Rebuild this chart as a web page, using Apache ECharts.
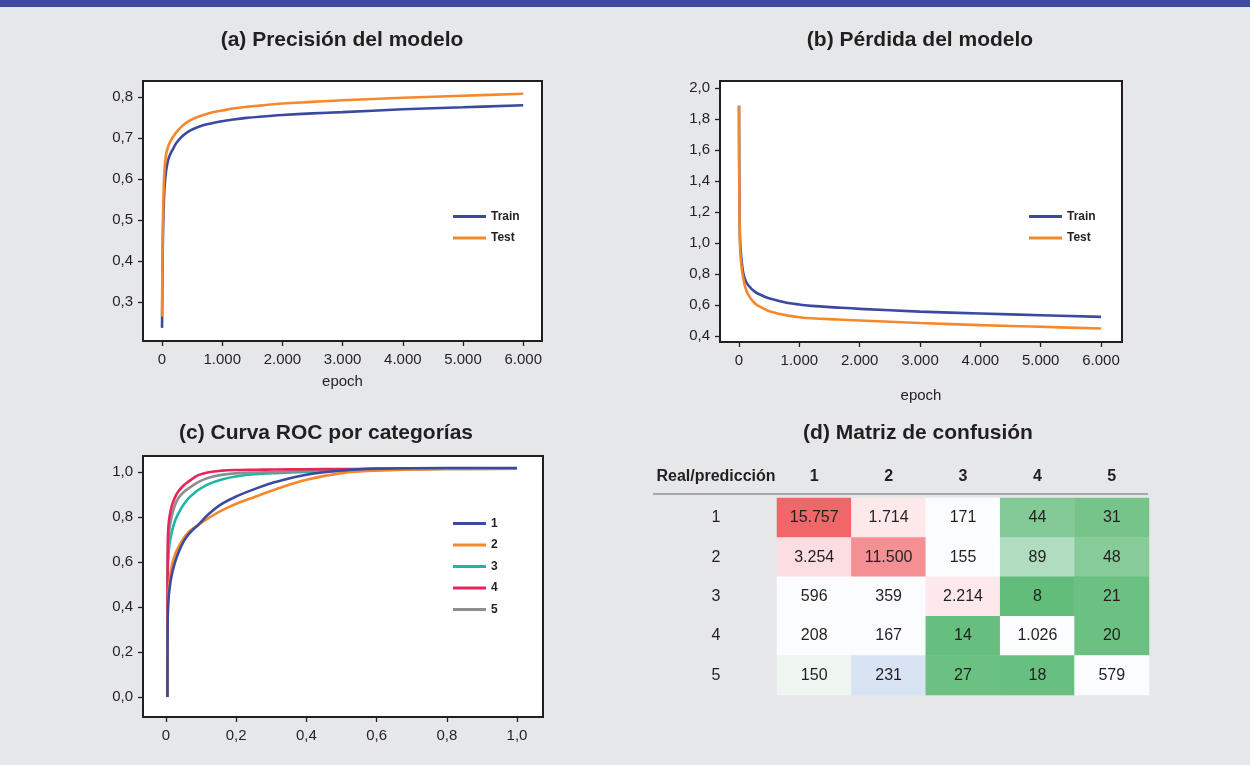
<!DOCTYPE html>
<html>
<head>
<meta charset="utf-8">
<script src="https://cdn.jsdelivr.net/npm/echarts@6/dist/echarts.min.js"></script>
<style>
  html, body { margin: 0; padding: 0; background: #e6e7e9; }
  #chart { width: 1250px; height: 765px; }
</style>
</head>
<body>
<div id="chart"></div>
<script>
// (a) precision per epoch
const epochsA = [0, 10, 22, 40, 66, 100, 132, 200, 243, 350, 464, 600, 795, 1000, 1182, 1400, 1624, 2000, 2500, 3000, 4000, 5000, 6000];
const trainAcc = [0.237, 0.40, 0.504, 0.575, 0.618, 0.645, 0.659, 0.678, 0.689, 0.706, 0.718, 0.727, 0.735, 0.741, 0.745, 0.749, 0.752, 0.756, 0.760, 0.763, 0.770, 0.775, 0.780];
const testAcc = [0.265, 0.45, 0.545, 0.620, 0.659, 0.678, 0.690, 0.706, 0.715, 0.731, 0.743, 0.752, 0.761, 0.767, 0.772, 0.776, 0.779, 0.784, 0.788, 0.792, 0.798, 0.803, 0.808];

// (b) loss per epoch
const epochsB = [0, 5, 15, 28, 50, 66, 100, 150, 260, 400, 480, 680, 810, 1000, 1200, 1640, 2000, 3000, 4000, 5000, 6000];
const trainLoss = [1.886, 1.40, 1.05, 0.95, 0.86, 0.815, 0.765, 0.729, 0.686, 0.658, 0.645, 0.624, 0.613, 0.603, 0.594, 0.583, 0.575, 0.557, 0.545, 0.534, 0.523];
const testLoss = [1.886, 1.35, 1.00, 0.90, 0.82, 0.783, 0.720, 0.668, 0.611, 0.578, 0.563, 0.541, 0.531, 0.521, 0.514, 0.506, 0.500, 0.484, 0.470, 0.459, 0.448];

// (c) ROC curves
const fpr = [0.004, 0.005, 0.007, 0.01, 0.016, 0.025, 0.035, 0.05, 0.064, 0.08, 0.092, 0.121, 0.159, 0.207, 0.254, 0.311, 0.4, 0.5, 0.6, 0.8, 1.0];
const tpr1 = [0, 0.36, 0.43, 0.48, 0.54, 0.595, 0.64, 0.69, 0.722, 0.748, 0.765, 0.812, 0.858, 0.896, 0.925, 0.955, 0.988, 1.007, 1.015, 1.018, 1.018];
const tpr2 = [0, 0.36, 0.46, 0.51, 0.58, 0.63, 0.665, 0.705, 0.733, 0.752, 0.765, 0.795, 0.829, 0.863, 0.89, 0.922, 0.965, 0.995, 1.006, 1.013, 1.015];
const tpr3 = [0, 0.55, 0.63, 0.68, 0.73, 0.78, 0.815, 0.855, 0.883, 0.905, 0.92, 0.946, 0.967, 0.982, 0.99, 0.995, 1.0, 1.005, 1.01, 1.013, 1.015];
const tpr4 = [0, 0.68, 0.76, 0.80, 0.846, 0.885, 0.913, 0.94, 0.957, 0.975, 0.986, 0.999, 1.006, 1.009, 1.01, 1.011, 1.012, 1.013, 1.014, 1.015, 1.015];
const tpr5 = [0, 0.60, 0.69, 0.75, 0.80, 0.85, 0.883, 0.91, 0.927, 0.944, 0.955, 0.974, 0.987, 0.995, 0.998, 1.0, 1.005, 1.01, 1.013, 1.015, 1.015];
const rocNames = ['1', '2', '3', '4', '5'];

// (d) confusion matrix, rows = real, columns = predicted
const classes = ['1', '2', '3', '4', '5'];
const confusion = [
  [15757, 1714, 171, 44, 31],
  [3254, 11500, 155, 89, 48],
  [596, 359, 2214, 8, 21],
  [208, 167, 14, 1026, 20],
  [150, 231, 27, 18, 579]
];

// tick values
const epochTicks = [0, 1000, 2000, 3000, 4000, 5000, 6000];
const accTicks = [0.3, 0.4, 0.5, 0.6, 0.7, 0.8];
const lossTicks = [0.4, 0.6, 0.8, 1.0, 1.2, 1.4, 1.6, 1.8, 2.0];
const rocTicks = [0, 0.2, 0.4, 0.6, 0.8, 1.0];

// styles
const BLUE = '#3b4a9e', ORANGE = '#f6882c', TEAL = '#1cb6a6', RED = '#e8245a', GRAY = '#8e8e90';
const INK = '#231f20';
const cellFill = [
  ['#f0676a', '#fde8ea', '#fbfcfe', '#84ca97', '#77c48b'],
  ['#fcdde1', '#f39093', '#fbfcfe', '#b0dcc0', '#86cb98'],
  ['#fbfcfe', '#fbfcfe', '#fde8eb', '#62bd7b', '#6bc182'],
  ['#fbfcfe', '#fbfcfe', '#66bf7e', '#fbfcfe', '#6ac181'],
  ['#eff6f2', '#d8e4f3', '#6ac181', '#68c080', '#fbfcfe']
];

const comma = (v, d) => v.toFixed(d).replace('.', ',');
const thousands = v => String(v).replace(/\B(?=(\d{3})+(?!\d))/g, '.');
const pairs = (xs, ys) => xs.map((x, i) => [x, ys[i]]);

const chart = echarts.init(document.getElementById('chart'));

const titleStyle = { fontSize: 21, fontWeight: 'bold', color: INK };
const labelStyle = { fontSize: 15, color: INK };

function valueAxis(gridIndex, min, max, ticks, fmt, margin, extra) {
  return Object.assign({
    type: 'value', gridIndex, min, max,
    axisLine: { show: false, onZero: false },
    splitLine: { show: false },
    axisTick: { show: true, length: 5, lineStyle: { color: INK, width: 1.3 }, customValues: ticks },
    axisLabel: Object.assign({ customValues: ticks, formatter: fmt, margin }, labelStyle)
  }, extra || {});
}

function curve(name, data, color, xi, z) {
  return {
    name, type: 'line', xAxisIndex: xi, yAxisIndex: xi, data,
    showSymbol: false, smooth: 0.4, z: z || 2,
    lineStyle: { color, width: 2.6 }, itemStyle: { color }
  };
}

const boxGrid = { show: true, backgroundColor: '#fff', borderColor: INK, borderWidth: 2 };
const legendBase = {
  orient: 'vertical', icon: 'rect', itemWidth: 33, itemHeight: 3, itemGap: 8.5, padding: 0,
  textStyle: { fontSize: 12, fontWeight: 'bold', color: INK, lineHeight: 13 }
};

const heatData = [];
confusion.forEach((row, r) => row.forEach((v, c) => {
  heatData.push({ value: [c, r, v], itemStyle: { color: cellFill[r][c] } });
}));

chart.setOption({
  backgroundColor: '#e6e7e9',
  textStyle: { fontFamily: '"Liberation Sans", Arial, Helvetica, sans-serif' },
  animation: false,
  title: [
    { text: '(a) Precisión del modelo', left: 342, top: 30, padding: 0, textAlign: 'center', textStyle: titleStyle },
    { text: '(b) Pérdida del modelo', left: 920, top: 30, padding: 0, textAlign: 'center', textStyle: titleStyle },
    { text: '(c) Curva ROC por categorías', left: 326, top: 423, padding: 0, textAlign: 'center', textStyle: titleStyle },
    { text: '(d) Matriz de confusión', left: 918, top: 423, padding: 0, textAlign: 'center', textStyle: titleStyle },
    { text: 'Real/predicción', left: 716, top: 469, padding: 0, textAlign: 'center', textStyle: { fontSize: 16, fontWeight: 'bold', color: INK } }
  ],
  graphic: [
    { type: 'rect', left: 0, top: 0, shape: { width: 1250, height: 7 }, style: { fill: '#3d4a9e' } },
    { type: 'line', shape: { x1: 653, y1: 494, x2: 1148, y2: 494 }, style: { stroke: '#a7a8ab', lineWidth: 2 } }
  ],
  legend: [
    Object.assign({ data: ['Train', 'Test'], left: 453, top: 210 }, legendBase),
    Object.assign({ data: ['Train', 'Test'], left: 1029, top: 210 }, legendBase),
    Object.assign({ data: rocNames, left: 453, top: 517 }, legendBase)
  ],
  grid: [
    Object.assign({ left: 143, top: 81, width: 399, height: 260 }, boxGrid),
    Object.assign({ left: 720, top: 81, width: 402, height: 261 }, boxGrid),
    Object.assign({ left: 143, top: 456, width: 400, height: 261 }, boxGrid),
    { left: 777, top: 498, width: 372, height: 197, show: false }
  ],
  xAxis: [
    valueAxis(0, -316, 6312, epochTicks, thousands, 11, { name: 'epoch', nameLocation: 'middle', nameGap: 33, nameTextStyle: labelStyle }),
    valueAxis(1, -315, 6348, epochTicks, thousands, 11, { name: 'epoch', nameLocation: 'middle', nameGap: 46, nameTextStyle: labelStyle }),
    valueAxis(2, -0.0655, 1.074, rocTicks, v => (v === 0 ? '0' : comma(v, 1)), 11),
    {
      type: 'category', gridIndex: 3, data: classes, position: 'top',
      axisLine: { show: false }, axisTick: { show: false }, splitLine: { show: false },
      axisLabel: { fontSize: 16, fontWeight: 'bold', color: INK, margin: 13 }
    }
  ],
  yAxis: [
    valueAxis(0, 0.205, 0.839, accTicks, v => comma(v, 1), 10),
    valueAxis(1, 0.361, 2.045, lossTicks, v => comma(v, 1), 10),
    valueAxis(2, -0.089, 1.071, rocTicks, v => comma(v, 1), 10),
    {
      type: 'category', gridIndex: 3, data: classes, inverse: true,
      axisLine: { show: false }, axisTick: { show: false }, splitLine: { show: false },
      axisLabel: { fontSize: 16, color: INK, align: 'center', margin: 61 }
    }
  ],
  series: [
    curve('Train', pairs(epochsA, trainAcc), BLUE, 0),
    curve('Test', pairs(epochsA, testAcc), ORANGE, 0),
    curve('Train', pairs(epochsB, trainLoss), BLUE, 1),
    curve('Test', pairs(epochsB, testLoss), ORANGE, 1),
    curve('1', pairs(fpr, tpr1), BLUE, 2, 7),
    curve('2', pairs(fpr, tpr2), ORANGE, 2, 6),
    curve('3', pairs(fpr, tpr3), TEAL, 2, 3),
    curve('4', pairs(fpr, tpr4), RED, 2, 5),
    curve('5', pairs(fpr, tpr5), GRAY, 2, 4),
    {
      type: 'heatmap', xAxisIndex: 3, yAxisIndex: 3, data: heatData,
      itemStyle: { borderWidth: 0 },
      label: { show: true, fontSize: 16, color: INK, formatter: p => thousands(p.value[2]) },
      emphasis: { disabled: true }
    }
  ]
});
</script>
</body>
</html>
